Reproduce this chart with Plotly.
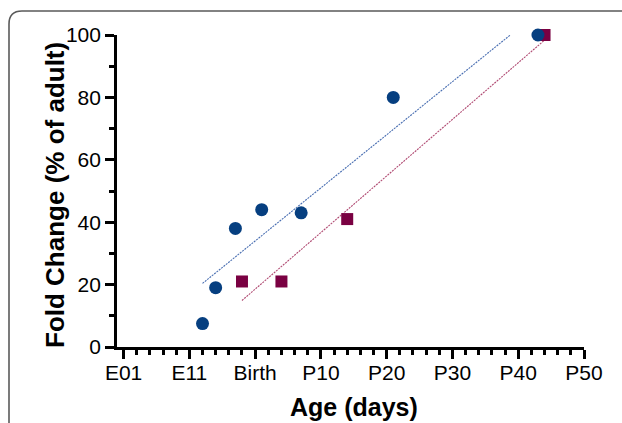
import numpy as np
import plotly.graph_objects as go

# Data
tick_vals = [-20, -10, 0, 10, 20, 30, 40, 50]
tick_text = ["E01", "E11", "Birth", "P10", "P20", "P30", "P40", "P50"]

blue_x = [-8, -6, -3, 1, 7, 21, 43]
blue_y = [7.5, 19, 38, 44, 43, 80, 100]

red_x = [-2, 4, 14, 44]
red_y = [21, 21, 41, 100]

BLUE = "#063f80"
RED = "#7a0142"
BLUE_LINE = "#4a6fb2"
RED_LINE = "#b04a72"

W, H = 622, 423
ML, MR, MT, MB = 117, 38, 35, 76


def px2paper(px, py):
    return (px - ML) / (W - ML - MR), (H - MB - py) / (H - MT - MB)


def fit(xs, ys):
    m, b = np.polyfit(xs, ys, 1)
    xx = np.array([min(xs), max(xs)], dtype=float)
    return xx, m * xx + b


fig = go.Figure()

bx, by = fit(blue_x, blue_y)
rx, ry = fit(red_x, red_y)
fig.add_trace(go.Scatter(x=bx, y=by, mode="lines",
                         line=dict(color=BLUE_LINE, width=1.1, dash="2px,1px"),
                         showlegend=False, hoverinfo="skip"))
fig.add_trace(go.Scatter(x=rx, y=ry, mode="lines",
                         line=dict(color=RED_LINE, width=1.1, dash="2px,1px"),
                         showlegend=False, hoverinfo="skip"))
fig.add_trace(go.Scatter(x=red_x, y=red_y, mode="markers",
                         marker=dict(symbol="square", size=12, color=RED),
                         cliponaxis=False, showlegend=False))
fig.add_trace(go.Scatter(x=blue_x, y=blue_y, mode="markers",
                         marker=dict(symbol="circle", size=13, color=BLUE),
                         cliponaxis=False, showlegend=False))

# Rounded frame around the panel
x0, y0 = px2paper(9, 440)
x1, y1 = px2paper(9, 24)
x2, y2 = px2paper(9, 11)
x3, y3 = px2paper(22, 11)
x4, y4 = px2paper(640, 11)
fig.add_shape(type="path", xref="paper", yref="paper",
              path=f"M {x0},{y0} L {x1},{y1} Q {x2},{y2} {x3},{y3} L {x4},{y4}",
              line=dict(color="#5a5a5a", width=1.6))

axis_common = dict(showline=True, linecolor="black", linewidth=2.7,
                   ticks="outside", tickcolor="black", tickwidth=2.5,
                   showgrid=False, zeroline=False,
                   tickfont=dict(family="Liberation Sans, Arial", size=21, color="black"))

fig.update_xaxes(range=[-21, 50], tickmode="array", tickvals=tick_vals, ticktext=tick_text,
                 ticklen=9, ticklabelstandoff=-4,
                 minor=dict(tickmode="linear", tick0=-20, dtick=2, ticks="outside",
                            ticklen=5, tickwidth=2.5, tickcolor="black"),
                 **axis_common)
fig.update_yaxes(range=[0, 100], tickmode="linear", tick0=0, dtick=20, ticklen=9,
                 minor=dict(tickmode="linear", tick0=0, dtick=10, ticks="outside",
                            ticklen=5, tickwidth=2.5, tickcolor="black"),
                 **axis_common)

tx, ty = px2paper(354, 407)
fig.add_annotation(text="<b>Age (days)</b>", xref="paper", yref="paper", x=tx, y=ty,
                   showarrow=False, xanchor="center", yanchor="middle",
                   font=dict(family="Liberation Sans, Arial", size=25, color="black"))
ax, ay = px2paper(55, 195)
fig.add_annotation(text="<b>Fold Change (% of adult)</b>", xref="paper", yref="paper", x=ax, y=ay,
                   showarrow=False, xanchor="center", yanchor="middle", textangle=-90,
                   font=dict(family="Liberation Sans, Arial", size=26, color="black"))

fig.update_layout(width=W, height=H, margin=dict(l=ML, r=MR, t=MT, b=MB),
                  plot_bgcolor="white", paper_bgcolor="white")

fig.write_html("out.html", config={"displayModeBar": False},
               post_script="document.body.style.margin='0';document.body.style.overflow='hidden';")
